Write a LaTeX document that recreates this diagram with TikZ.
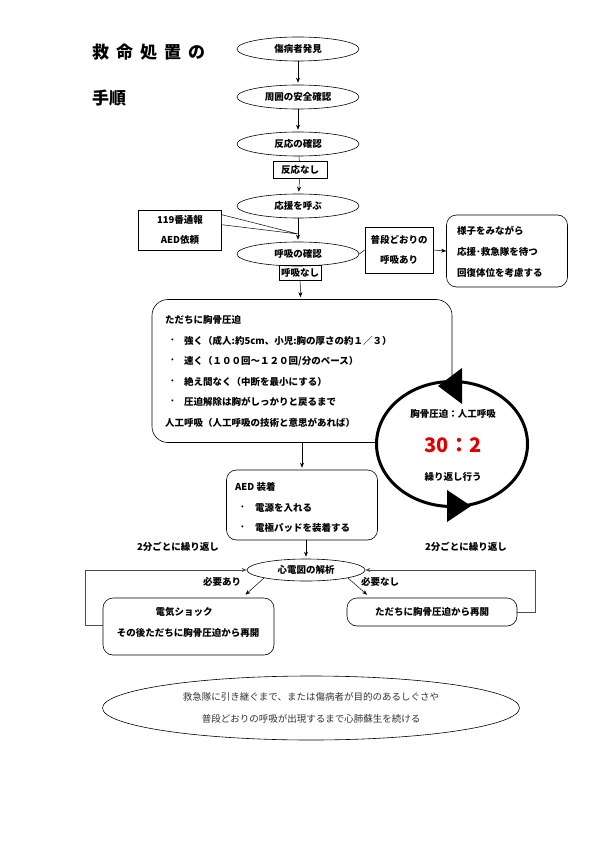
\documentclass[tikz,border=0pt]{standalone}
\usepackage{fontspec}
\setmainfont{Noto Sans CJK JP}
\usetikzlibrary{shapes.geometric,arrows.meta,calc}
\begin{document}
\begin{tikzpicture}[x=1pt,y=-1pt,
  font=\fontsize{9.5}{11}\selectfont\bfseries,
  ell/.style={draw, ellipse, line width=0.6pt, inner sep=0pt, minimum width=122pt, minimum height=24pt},
  sbox/.style={draw, rectangle, line width=0.6pt, inner sep=0pt, align=center},
  rbox/.style={draw, rectangle, rounded corners=10pt, line width=0.6pt, inner sep=0pt},
  txt/.style={inner sep=0pt, anchor=west},
  ctxt/.style={inner sep=0pt},
  arr/.style={-{Stealth[length=5pt,width=4pt]}, line width=0.5pt, shorten >=2pt},
  ln/.style={line width=0.5pt},
  big/.style={font=\fontsize{17}{20}\selectfont\bfseries, inner sep=0pt, anchor=west}]
\useasboundingbox (0,0) rectangle (596,842);

% title
\node[big] (t1) at (92,52) {救\hspace{7pt}命\hspace{7pt}処\hspace{7pt}置\hspace{7pt}の};
\node[big] (t2) at (92,98) {手順};

% main column
\node[ell] (e1) at (298,49) {傷病者発見};
\node[ell] (e2) at (298,97) {周囲の安全確認};
\node[ell] (e3) at (298,144) {反応の確認};
\node[sbox, minimum width=54pt, minimum height=17pt] (b1) at (300,170) {反応なし};
\node[ell] (e4) at (298,206) {応援を呼ぶ};
\node[ell] (e5) at (298,254) {呼吸の確認};
\node[sbox, minimum width=42pt, minimum height=15pt] (b2) at (300,273) {呼吸なし};

\draw[arr] (e1) -- (e2);
\draw[arr] (e2) -- (e3);
\draw[ln] (e3) -- (b1);
\draw[arr] (b1) -- (e4);
\draw[arr] (e4) -- (e5);

% 119 callout
\node[sbox, minimum width=83pt, minimum height=40pt, font=\fontsize{9.5}{20}\selectfont\bfseries] (b5) at (180,230) {119番通報\\AED依頼};
\coordinate (cp) at (298,234);
\draw[ln, fill=white] ($(b5.north east)+(0,5)$) -- (cp) -- ($(b5.north east)+(0,15)$);

% breathing normal branch
\node[sbox, minimum width=68pt, minimum height=46pt, font=\fontsize{9.5}{20}\selectfont\bfseries] (b3) at (399,250) {普段どおりの\\呼吸あり};
\node[rbox, minimum width=121pt, minimum height=72pt] (b4) at (507,251) {};
\node[txt] (b4a) at (457,231) {様子をみながら};
\node[txt] (b4b) at (457,252) {応援･救急隊を待つ};
\node[txt] (b4c) at (457,273) {回復体位を考慮する};
\draw[ln] (e5.east) -- (b3.west);
\draw[arr, shorten >=0pt] (b3.east) -- (b4.west);

% CPR box
\node[rbox, rounded corners=16pt, minimum width=300pt, minimum height=143pt] (b6) at (302,371) {};
\draw[arr] (b2) -- (b6);
\node[txt] (c0) at (165,320) {ただちに胸骨圧迫};
\node[txt] (c1d) at (170,341) {･};
\node[txt] (c1) at (184,341) {強く（成人:約5cm、小児:胸の厚さの約１／３）};
\node[txt] (c2d) at (170,361) {･};
\node[txt] (c2) at (184,361) {速く（１００回～１２０回/分のペース）};
\node[txt] (c3d) at (170,382) {･};
\node[txt] (c3) at (184,382) {絶え間なく（中断を最小にする）};
\node[txt] (c4d) at (170,402) {･};
\node[txt] (c4) at (184,402) {圧迫解除は胸がしっかりと戻るまで};
\node[txt] (c5) at (165,423) {人工呼吸（人工呼吸の技術と意思があれば）};

% cycle circle
\node[draw, ellipse, line width=3pt, fill=white, minimum width=151pt, minimum height=125pt, inner sep=0pt] (cy) at (452,444) {};
\fill (438,386) -- (462,368) -- (462,404) -- cycle;
\fill (471,506) -- (447,490) -- (447,522) -- cycle;
\node[ctxt] (cy1) at (453,414) {胸骨圧迫：人工呼吸};
\node[ctxt, text={rgb,255:red,225;green,0;blue,0}, font=\fontsize{20}{22}\selectfont\bfseries] (cy2) at (453,445) {30：2};
\node[ctxt] (cy3) at (453,477) {繰り返し行う};

% AED box
\node[rbox, minimum width=151pt, minimum height=70pt] (b7) at (302,505) {};
\draw[arr] (b6) -- (b7);
\node[txt] (a0) at (235,487) {AED 装着};
\node[txt] (a1d) at (240,508) {･};
\node[txt] (a1) at (255,508) {電源を入れる};
\node[txt] (a2d) at (240,528) {･};
\node[txt] (a2) at (255,528) {電極パッドを装着する};

\node[ctxt] (r1) at (178,547) {2分ごとに繰り返し};
\node[ctxt] (r2) at (466,547) {2分ごとに繰り返し};

% ECG analysis
\node[ell, minimum width=118pt, minimum height=22pt] (e8) at (306,570) {心電図の解析};
\draw[arr] (b7.south -| e8) -- (e8);

\node[rbox, minimum width=171pt, minimum height=57pt] (b8) at (188.5,626.5) {};
\node[ctxt] (s1) at (184,612) {電気ショック};
\node[ctxt] (s2) at (188,633) {その後ただちに胸骨圧迫から再開};
\node[rbox, minimum width=170pt, minimum height=28pt] (b9) at (432,612) {ただちに胸骨圧迫から再開};

\node[ctxt] (n1) at (222,582) {必要あり};
\node[ctxt] (n2) at (380,582) {必要なし};

\draw[arr, shorten >=0pt] (e8.south west) -- ($(b8.north)+(57,-3)$);
\draw[arr, shorten >=0pt] (e8.south east) -- ($(b9.north)+(-65,-3)$);

\draw[arr, shorten >=0pt, draw=black!70] ($(b8.west)+(0,-1)$) -- ++(-17,0) |- (e8.west);
\draw[arr, shorten >=0pt, draw=black!70] (b9.east) -- ++(18,0) |- (e8.east);

% final ellipse
\node[draw, ellipse, line width=0.6pt, minimum width=417pt, minimum height=64pt, inner sep=0pt] (e9) at (311,708) {};
\node[ctxt, font=\fontsize{9.5}{11}\selectfont, text=black!80] (f1) at (311,697) {救急隊に引き継ぐまで、または傷病者が目的のあるしぐさや};
\node[ctxt, font=\fontsize{9.5}{11}\selectfont, text=black!80] (f2) at (311,719) {普段どおりの呼吸が出現するまで心肺蘇生を続ける};
\end{tikzpicture}
\end{document}
